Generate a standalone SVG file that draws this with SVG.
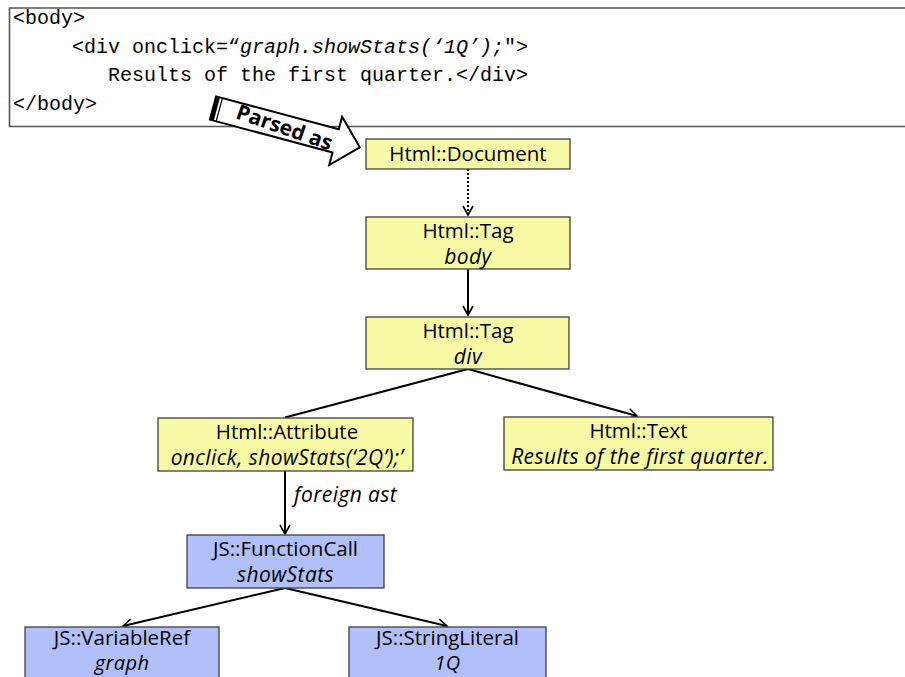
<svg xmlns="http://www.w3.org/2000/svg" width="905" height="677" viewBox="0 0 905 677">
<defs>
<marker id="ah" markerWidth="14" markerHeight="14" refX="10" refY="6" orient="auto" markerUnits="userSpaceOnUse">
<path d="M1,1 L10,6 L1,11" fill="none" stroke="#000" stroke-width="1.6"/>
</marker>
<style>
.code{font-family:"Liberation Mono","Courier New",monospace;font-size:20px;fill:#000;}
.it{font-style:italic;}
.node rect{stroke:#404040;stroke-width:1.3;}
.y{fill:#F7F9A5;}
.b{fill:#B1BFFA;}
.lbl{font-family:"Open Sans",Lato,sans-serif;font-size:20.5px;fill:#000;text-anchor:middle;}
.lbl.it{font-size:21px;letter-spacing:0.4px;}
.lbl.it.sm{font-size:20px;}
.conn line{stroke:#000;stroke-width:2;}
</style>
</defs>
<rect width="905" height="677" fill="#fff"/>
<g id="code">
<path d="M908,8 L9.5,8 L9.5,126.5 L908,126.5" fill="#fff" stroke="#555" stroke-width="1.6"/>
<text class="code" x="13" y="24">&lt;body&gt;</text>
<text class="code" x="72" y="53">&lt;div onclick=“<tspan class="it">graph.showStats(‘1Q’);</tspan>"&gt;</text>
<text class="code" x="108" y="81">Results of the first quarter.&lt;/div&gt;</text>
<text class="code" x="13" y="110">&lt;/body&gt;</text>
</g>
<g id="parsed-as" transform="translate(213,108) rotate(15)">
<path d="M0,-12 L127,-12 L127,-25 L152,0 L127,25 L127,12 L0,12 Z" fill="#fff" stroke="#000" stroke-width="2"/>
<rect x="0" y="-12" width="4" height="24" fill="#000"/>
<line x1="6.5" y1="-12" x2="6.5" y2="12" stroke="#000" stroke-width="1.2"/>
<text x="74" y="7.5" font-family="'Open Sans',Lato,sans-serif" font-weight="bold" font-size="21" text-anchor="middle" transform="rotate(4 74 0)">Parsed as</text>
</g>
<g class="conn" id="connectors">
<line x1="468" y1="169" x2="468" y2="215" stroke-dasharray="2,2" marker-end="url(#ah)"/>
<line x1="468" y1="269" x2="468" y2="315" marker-end="url(#ah)"/>
<line x1="468" y1="369" x2="285" y2="417.5"/>
<line x1="468" y1="369" x2="637" y2="416" marker-end="url(#ah)"/>
<line x1="285" y1="471" x2="285" y2="534" marker-end="url(#ah)"/>
<line x1="285" y1="588" x2="123" y2="626" marker-end="url(#ah)"/>
<line x1="285" y1="588" x2="447" y2="626" marker-end="url(#ah)"/>
<text x="294" y="502" font-family="'Open Sans',Lato,sans-serif" font-size="21" letter-spacing="0.4" font-style="italic">foreign ast</text>
</g>
<g class="node" id="n-document">
<rect class="y" x="366" y="139" width="204" height="30"/>
<text class="lbl" x="468" y="161">Html::Document</text>
</g>
<g class="node" id="n-body">
<rect class="y" x="366" y="217" width="204" height="52"/>
<text class="lbl" x="468" y="238">Html::Tag</text>
<text class="lbl it" x="468" y="264">body</text>
</g>
<g class="node" id="n-div">
<rect class="y" x="366" y="317" width="203" height="52"/>
<text class="lbl" x="468" y="338">Html::Tag</text>
<text class="lbl it" x="468" y="364">div</text>
</g>
<g class="node" id="n-attr">
<rect class="y" x="158" y="418" width="255" height="53"/>
<text class="lbl" x="287" y="439">Html::Attribute</text>
<text class="lbl it" x="287" y="465">onclick, showStats(‘2Q’);’</text>
</g>
<g class="node" id="n-text">
<rect class="y" x="504" y="417" width="269" height="53"/>
<text class="lbl" x="638.5" y="438">Html::Text</text>
<text class="lbl it" x="640" y="464">Results of the first quarter.</text>
</g>
<g class="node" id="n-call">
<rect class="b" x="187" y="535" width="197" height="53"/>
<text class="lbl" x="285.5" y="556">JS::FunctionCall</text>
<text class="lbl it" x="285.5" y="582">showStats</text>
</g>
<g class="node" id="n-var">
<rect class="b" x="25" y="627" width="194" height="60"/>
<text class="lbl" x="122" y="645">JS::VariableRef</text>
<text class="lbl it sm" x="122" y="670">graph</text>
</g>
<g class="node" id="n-str">
<rect class="b" x="349" y="627" width="197" height="60"/>
<text class="lbl" x="447.5" y="645">JS::StringLiteral</text>
<text class="lbl it sm" x="447.5" y="670">1Q</text>
</g>
</svg>
